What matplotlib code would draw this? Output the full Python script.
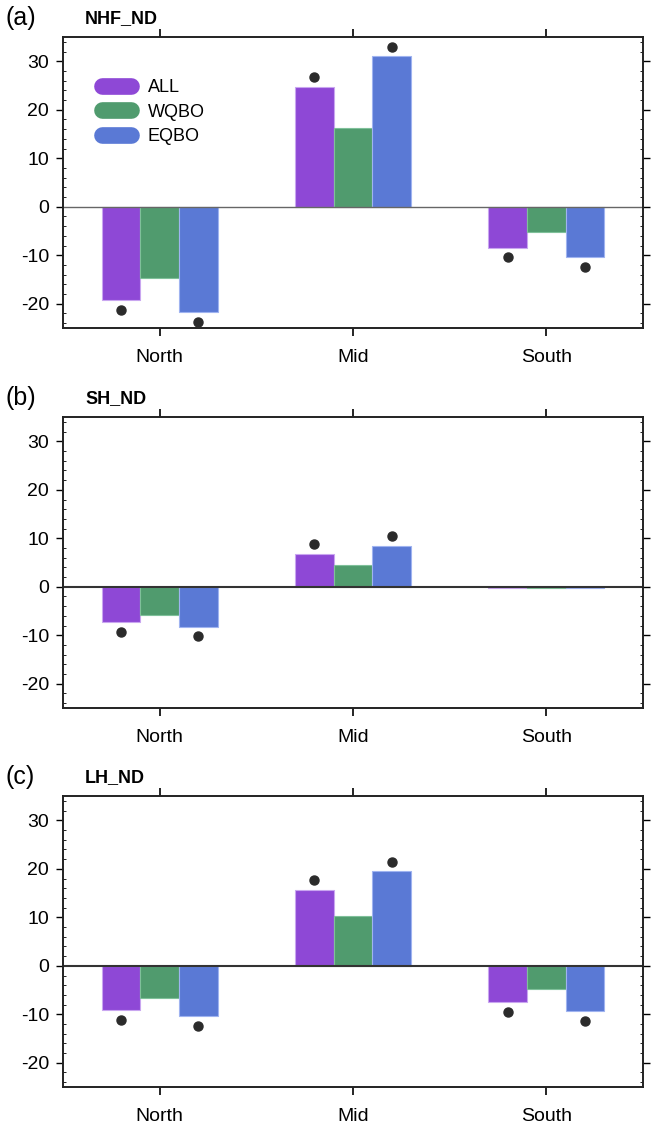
import numpy as np
import matplotlib
matplotlib.use('Agg')
import matplotlib.pyplot as plt
from matplotlib.lines import Line2D
from matplotlib.ticker import MultipleLocator

plt.rcParams['font.family'] = ['Liberation Sans', 'DejaVu Sans']
plt.rcParams['axes.unicode_minus'] = False

# data
regions = ['North', 'Mid', 'South']
series = ['ALL', 'WQBO', 'EQBO']
colors = ['#8e48d6', '#509b6e', '#5a79d5']
edges = ['#c9a6f0', '#7fc09a', '#9fb3f0']

panel_labels = ['(a)', '(b)', '(c)']
panel_titles = ['NHF_ND', 'SH_ND', 'LH_ND']

nhf_all = [-19.2, 24.7, -8.4]
nhf_wqbo = [-14.6, 16.2, -5.3]
nhf_eqbo = [-21.7, 31.0, -10.4]

sh_all = [-7.3, 6.8, -0.2]
sh_wqbo = [-5.8, 4.4, -0.3]
sh_eqbo = [-8.2, 8.5, -0.2]

lh_all = [-9.2, 15.6, -7.5]
lh_wqbo = [-6.7, 10.3, -4.8]
lh_eqbo = [-10.4, 19.5, -9.3]

# significance (dots) for ALL / EQBO
nhf_sig = [[1, 1, 1], [0, 0, 0], [1, 1, 1]]
sh_sig = [[1, 1, 0], [0, 0, 0], [1, 1, 0]]
lh_sig = [[1, 1, 1], [0, 0, 0], [1, 1, 1]]

panels = [
    ([nhf_all, nhf_wqbo, nhf_eqbo], nhf_sig),
    ([sh_all, sh_wqbo, sh_eqbo], sh_sig),
    ([lh_all, lh_wqbo, lh_eqbo], lh_sig),
]

fig = plt.figure(figsize=(6.51, 11.26), dpi=100)
bottoms = [0.7087, 0.3712, 0.0346]
x = np.arange(len(regions))
w = 0.2

for k, (vals, sig) in enumerate(panels):
    ax = fig.add_axes([0.0968, bottoms[k], 0.891, 0.2584])
    for i in range(3):
        v = np.array(vals[i])
        ax.bar(x + (i - 1) * w, v, width=w, color=colors[i], edgecolor=edges[i],
               linewidth=0.8, zorder=2)
        for j in range(3):
            if sig[i][j]:
                off = 2.0 if v[j] > 0 else -2.0
                ax.plot(x[j] + (i - 1) * w, v[j] + off, 'o', color='#2b2b2b',
                        ms=6.5, zorder=3)
    ax.axhline(0, color='#666666' if k == 0 else '#333333',
               lw=1.0 if k == 0 else 1.5, zorder=2.5)
    ax.set_xlim(-0.5, 2.5)
    ax.set_ylim(-25, 35)
    ax.set_xticks(x)
    ax.set_xticklabels(regions, fontsize=14)
    ax.set_yticks([-20, -10, 0, 10, 20, 30])
    ax.yaxis.set_minor_locator(MultipleLocator(2))
    ax.tick_params(axis='x', which='major', direction='out', length=6, width=1.2,
                   top=True, pad=9)
    ax.tick_params(axis='y', which='major', direction='out', length=5, width=1.0,
                   right=True, labelsize=14, pad=5)
    ax.tick_params(axis='y', which='minor', direction='in', length=2, width=0.6,
                   right=True)
    for s in ax.spines.values():
        s.set_linewidth(1.4)
        s.set_color('#222222')
    ax.text(-0.1, 1.065, panel_labels[k], transform=ax.transAxes, fontsize=18,
            ha='left', va='center')
    ax.text(0.038, 1.065, panel_titles[k], transform=ax.transAxes, fontsize=13,
            fontweight='bold', ha='left', va='center')
    if k == 0:
        handles = [Line2D([0], [0], color=c, lw=12, solid_capstyle='round')
                   for c in colors]
        ax.legend(handles, series, loc='upper left', bbox_to_anchor=(0.04, 0.91),
                  frameon=False, fontsize=13, handlelength=1.6, labelspacing=0.4,
                  handletextpad=0.9)

fig.savefig('out.png', dpi=100)
